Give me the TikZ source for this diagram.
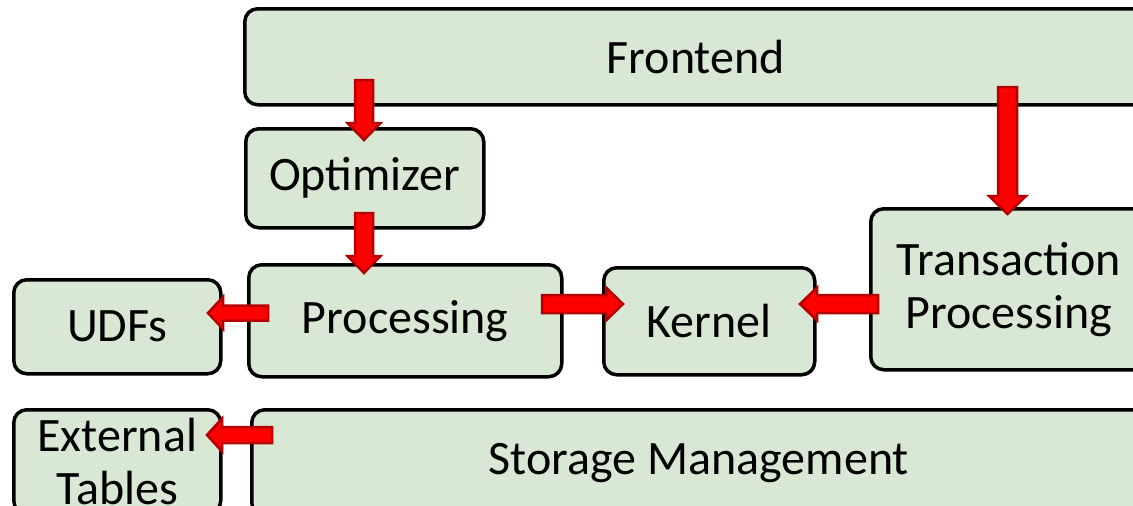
\documentclass[tikz,border=0pt]{standalone}
\usepackage{fontspec}
\setmainfont{Carlito}
\usetikzlibrary{calc}
\definecolor{boxfill}{RGB}{216,232,212}
\definecolor{arrred}{RGB}{255,0,0}
\definecolor{arredge}{RGB}{180,0,0}
\tikzset{
  box/.style={draw=black, fill=boxfill, line width=3.5pt, rounded corners=13pt,
    anchor=north west, inner sep=0pt, align=center,
    font=\fontsize{48}{53}\selectfont},
  blockarr/.style={fill=arrred, draw=arredge, line width=2.5pt}
}
\newcommand\blockarrow[5]{%
  \path (#1) coordinate (bas) (#2) coordinate (bae);
  \path ($(bae)!#5!(bas)$) coordinate (bah);
  \draw[blockarr] ($(bas)!#3!90:(bae)$) -- ($(bah)!#3!90:(bae)$) -- ($(bah)!#4!90:(bae)$)
    -- (bae) -- ($(bah)!#4!-90:(bae)$) -- ($(bah)!#3!-90:(bae)$) -- ($(bas)!#3!-90:(bae)$) -- cycle;}
\begin{document}
\begin{tikzpicture}[x=1pt,y=-1pt]
\useasboundingbox (0,0) rectangle (1133,506);
\clip (0,0) rectangle (1133,506);
% boxes
\node[box, minimum width=902pt, minimum height=96pt] (frontend) at (243,7) {Frontend};
\node[box, minimum width=238pt, minimum height=99pt] (optimizer) at (244,127) {Optimizer};
\node[box, minimum width=313pt, minimum height=112pt] (processing) at (247,263) {Processing};
\node[box, minimum width=207pt, minimum height=94pt] (udfs) at (12,278) {UDFs};
\node[box, minimum width=211pt, minimum height=107pt] (kernel) at (602,266) {Kernel};
\node[box, minimum width=276pt, minimum height=161pt] (transaction) at (869,207) {Transaction\\Processing};
\node[box, minimum width=207pt, minimum height=104pt] (external) at (12,408) {External\\Tables};
\node[box, minimum width=894pt, minimum height=106pt] (storage) at (250,408) {Storage Management};
% arrow end points
\coordinate (a1s) at (364,80);   \coordinate (a1e) at (364,140);
\coordinate (a2s) at (364,213);  \coordinate (a2e) at (364,273);
\coordinate (a3s) at (1007.5,87); \coordinate (a3e) at (1007.5,214);
\coordinate (a4s) at (542,304);  \coordinate (a4e) at (623,304);
\coordinate (a5s) at (878,304);  \coordinate (a5e) at (800,304);
\coordinate (a6s) at (268,313);  \coordinate (a6e) at (208,313);
\coordinate (a7s) at (272,435);  \coordinate (a7e) at (207,435);
% arrows
\blockarrow{a1s}{a1e}{9pt}{16.5pt}{17pt}
\blockarrow{a2s}{a2e}{9pt}{16.5pt}{17pt}
\blockarrow{a3s}{a3e}{9.5pt}{18.5pt}{18pt}
\blockarrow{a4s}{a4e}{9pt}{16.5pt}{17pt}
\blockarrow{a5s}{a5e}{9pt}{16.5pt}{17pt}
\blockarrow{a6s}{a6e}{7.5pt}{16pt}{15pt}
\blockarrow{a7s}{a7e}{8pt}{16.5pt}{15pt}
\end{tikzpicture}
\end{document}
